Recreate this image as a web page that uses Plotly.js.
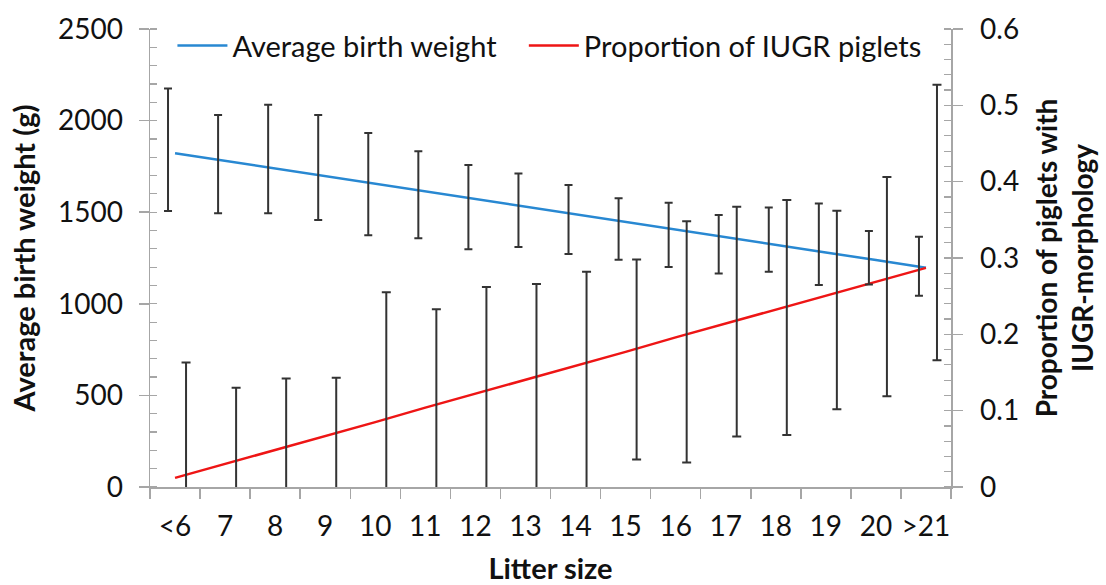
<!DOCTYPE html>
<html>
<head>
<meta charset="utf-8">
<script src="https://cdn.plot.ly/plotly-3.0.1.min.js"></script>
<style>html,body{margin:0;padding:0;background:#fff;}#chart{width:1106px;height:585px;}</style>
</head>
<body>
<div id="chart"></div>
<script>
// Categories (litter size)
const categories = ['<6','7','8','9','10','11','12','13','14','15','16','17','18','19','20','>21'];

// Average birth weight (g) line and its error bar bounds
const weight     = [1822, 1780, 1740, 1697, 1655, 1614, 1572, 1530, 1489, 1447, 1405, 1364, 1322, 1280, 1239, 1197];
const weightHigh = [2175, 2030, 2086, 2030, 1932, 1833, 1758, 1711, 1649, 1576, 1552, 1485, 1525, 1547, 1398, 1366];
const weightLow  = [1507, 1494, 1494, 1458, 1374, 1358, 1298, 1310, 1272, 1241, 1201, 1166, 1175, 1102, 1106, 1044];

// Proportion of IUGR piglets line and its error bar bounds
const iugr     = [0.012, 0.030, 0.049, 0.067, 0.085, 0.104, 0.122, 0.140, 0.159, 0.177, 0.196, 0.214, 0.232, 0.251, 0.269, 0.287];
const iugrHigh = [0.163, 0.130, 0.142, 0.143, 0.255, 0.233, 0.262, 0.266, 0.282, 0.298, 0.348, 0.367, 0.376, 0.362, 0.406, 0.527];
const iugrLow  = [-0.14, -0.07, -0.04, -0.01, -0.08, -0.04, -0.02, -0.01, -0.03, 0.036, 0.032, 0.066, 0.068, 0.102, 0.119, 0.166];

const seriesNames = ['Average birth weight', 'Proportion of IUGR piglets'];

// horizontal shift of each error-bar set, in category units (style)
const weightBarShift = -0.14;
const iugrBarShift = 0.22;

const FONT = 'Lato, "Open Sans", sans-serif';
const AXIS_GRAY = '#a6a6a6';
const BAR_COLOR = '#333333';
const TXT = '#111111';
const LEGEND_PAD = '\u00a0\u00a0\u00a0';

const idx = categories.map((c, i) => i);

const traces = [
  {
    x: idx.map(i => i + weightBarShift), y: weight,
    xaxis: 'x2', yaxis: 'y', type: 'scatter', mode: 'none', showlegend: false, hoverinfo: 'skip',
    error_y: {type: 'data', symmetric: false,
      array: weight.map((v, i) => weightHigh[i] - v),
      arrayminus: weight.map((v, i) => v - weightLow[i]),
      color: BAR_COLOR, thickness: 2, width: 4}
  },
  {
    x: idx.map(i => i + iugrBarShift), y: iugr,
    xaxis: 'x2', yaxis: 'y2', type: 'scatter', mode: 'none', showlegend: false, hoverinfo: 'skip',
    error_y: {type: 'data', symmetric: false,
      array: iugr.map((v, i) => iugrHigh[i] - v),
      arrayminus: iugr.map((v, i) => v - iugrLow[i]),
      color: BAR_COLOR, thickness: 2, width: 4.5}
  },
  {
    x: categories, y: weight, name: seriesNames[0] + LEGEND_PAD, type: 'scatter', mode: 'lines',
    xaxis: 'x', yaxis: 'y', line: {color: '#2888d2', width: 2.5}
  },
  {
    x: categories, y: iugr, name: seriesNames[1], type: 'scatter', mode: 'lines',
    xaxis: 'x', yaxis: 'y2', line: {color: '#ee1515', width: 2.5}
  }
];

const layout = {
  width: 1106, height: 585,
  margin: {l: 150, r: 155, t: 29, b: 98, pad: 0},
  paper_bgcolor: '#ffffff', plot_bgcolor: '#ffffff',
  font: {family: FONT, color: TXT, size: 28},
  showlegend: true,
  legend: {orientation: 'h', x: 0.028, xanchor: 'left', y: 0.9635, yanchor: 'middle',
    font: {family: FONT, size: 29, color: TXT}, bgcolor: 'rgba(0,0,0,0)',
    itemwidth: 50, traceorder: 'normal'},
  xaxis: {
    type: 'category', categoryorder: 'array', categoryarray: categories,
    range: [-0.5, 15.5], tickson: 'boundaries', tickangle: 0,
    showline: true, linecolor: AXIS_GRAY, linewidth: 1.5,
    ticks: 'outside', ticklen: 10, tickwidth: 1.5, tickcolor: AXIS_GRAY,
    ticklabelstandoff: 14,
    showgrid: false, zeroline: false,
    tickfont: {family: FONT, size: 28, color: TXT},
    title: {text: '<b>Litter size</b>', font: {family: FONT, size: 29, color: TXT}, standoff: 21},
    fixedrange: true
  },
  xaxis2: {
    type: 'linear', overlaying: 'x', range: [-0.5, 15.5], visible: false, fixedrange: true
  },
  yaxis: {
    range: [0, 2500], dtick: 500, tick0: 0,
    showline: true, linecolor: AXIS_GRAY, linewidth: 1.5,
    ticks: 'outside', ticklen: 10, tickwidth: 1.5, tickcolor: AXIS_GRAY,
    ticklabelstandoff: 10,
    minor: {dtick: 100, ticks: 'inside', ticklen: 7, tickwidth: 1.2, tickcolor: AXIS_GRAY, showgrid: false},
    showgrid: false, zeroline: false,
    tickfont: {family: FONT, size: 28, color: TXT},
    title: {text: '<b>Average birth weight (g)</b>', font: {family: FONT, size: 29, color: TXT}, standoff: 14},
    fixedrange: true
  },
  yaxis2: {
    overlaying: 'y', side: 'right',
    range: [0, 0.6], dtick: 0.1, tick0: 0,
    showline: true, linecolor: AXIS_GRAY, linewidth: 1.5,
    ticks: 'outside', ticklen: 10, tickwidth: 1.5, tickcolor: AXIS_GRAY,
    ticklabelstandoff: 12,
    minor: {dtick: 0.02, ticks: 'inside', ticklen: 7, tickwidth: 1.2, tickcolor: AXIS_GRAY, showgrid: false},
    showgrid: false, zeroline: false,
    tickfont: {family: FONT, size: 28, color: TXT},
    title: {text: '<b>Proportion of piglets with<br>IUGR-morphology</b>', font: {family: FONT, size: 28, color: TXT}, standoff: 19},
    fixedrange: true
  }
};

Plotly.newPlot('chart', traces, layout, {displayModeBar: false, staticPlot: true});
</script>
</body>
</html>
